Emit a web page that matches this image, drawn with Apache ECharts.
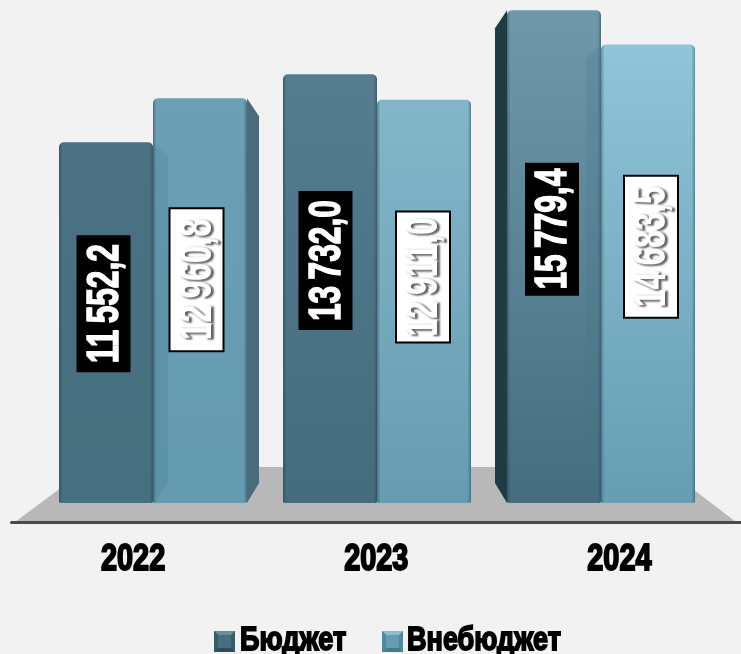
<!DOCTYPE html>
<html><head><meta charset="utf-8">
<style>html,body{margin:0;padding:0;background:#f2f2f2}#c{width:741px;height:654px}</style>
<script src="https://cdn.jsdelivr.net/npm/echarts@6/dist/echarts.min.js"></script>
</head><body><div id="c"></div>
<script>
var categories = ['2022', '2023', '2024'];
var seriesNames = ['Бюджет', 'Внебюджет'];
var budget = [11552.2, 13732.0, 15779.4];
var offBudget = [12960.8, 12911.0, 14683.5];

var topColorsA = ['#4b7183', '#557c8f', '#6f99ab'];
var bottomColorsA = ['#46707f', '#456c7d', '#466d7f'];
var topColorsB = ['#6a9fb5', '#84b6ca', '#90c4d8'];
var bottomColorsB = ['#659bb0', '#669cb1', '#669db2'];
var sideDirA = [1, 0, -1];
var sideDirB = [1, 0, -1];
var labelDxA = [-2.5, -4.5, -2], labelDyA = [-19, -28, -27.5], boxLenA = [137, 139, 133];
var labelDxB = [-3.5, -1, 3], labelDyB = [-21, -24.5, -27], boxLenB = [143, 131, 142];
var BAR = 94, FONT = '"Liberation Sans",sans-serif';

function fmt(v){
  var s = v.toFixed(1).replace('.', ',');
  return s.replace(/^(\d+)(\d{3}),/, '$1\u2009$2,');
}
function gradient(a, b){
  return new echarts.graphic.LinearGradient(0, 0, 0, 1, [{offset: 0, color: a}, {offset: 1, color: b}]);
}
function bars(vals, tops, bottoms){
  return vals.map(function(v, i){ return {value: v, itemStyle: {color: gradient(tops[i], bottoms[i])}}; });
}
function decor(shift, dirs, opaqueFill, overlayFill, which){
  return function(params, api){
    var i = api.value(0), v = api.value(1);
    var c = api.coord([i, v]), b = api.coord([i, 0]);
    var xl = c[0] + shift - BAR / 2, xr = xl + BAR, t = c[1], bot = b[1];
    var kids = [{
      type: 'rect', shape: {x: xl, y: t, width: BAR, height: bot - t, r: [5, 5, 2, 2]},
      style: {fill: new echarts.graphic.LinearGradient(0, 0, 1, 0, [
        {offset: 0, color: 'rgba(20,40,50,0.38)'}, {offset: 0.035, color: 'rgba(20,40,50,0)'},
        {offset: 0.965, color: 'rgba(20,40,50,0)'}, {offset: 1, color: 'rgba(20,40,50,0.38)'}])}
    }];
    var d = dirs[i];
    if (d !== 0) {
      var opaque = (which === 'A') ? d < 0 : d > 0;
      var depth = opaque ? 12 : 15;
      var edge = d > 0 ? xr : xl;
      var drop = opaque ? 18 : 14;
      kids.push({
        type: 'polygon',
        shape: {points: [[edge, t], [edge + d * depth, t + drop], [edge + d * depth, bot - 20], [edge, bot]]},
        style: {fill: opaque ? opaqueFill : overlayFill}
      });
    }
    return {type: 'group', children: kids};
  };
}
function labels(shift, dxs, dys, lens, dark){
  return function(params, api){
    var i = api.value(0), v = api.value(1);
    var x = api.coord([i, v])[0] + shift + dxs[i];
    var y = api.coord([i, v / 2])[1] + dys[i];
    var len = lens[i], w = 54;
    var t = {
      type: 'text', x: x + 2, y: y, rotation: Math.PI / 2, scaleX: 0.72, scaleY: 1,
      style: {
        text: fmt(v), x: 0, y: 0, align: 'center', verticalAlign: 'middle',
        font: 'bold 44px ' + FONT, fill: '#ffffff',
        stroke: '#ffffff', lineWidth: 1.5,
        textShadowColor: dark ? 'transparent' : '#555555',
        textShadowBlur: dark ? 0 : 2, textShadowOffsetX: dark ? 0 : 2, textShadowOffsetY: dark ? 0 : 1
      }
    };
    return {type: 'group', children: [{
      type: 'rect', shape: {x: x - w / 2, y: y - len / 2, width: w, height: len},
      style: dark ? {fill: '#000'} : {fill: '#fff', stroke: '#000', lineWidth: 2}
    }, t]};
  };
}
function yearLabels(params, api){
  var i = api.value(0);
  var c = api.coord([i, 0]);
  return {
    type: 'text', x: c[0], y: c[1] + 38, scaleX: 0.78,
    style: {text: categories[i], x: 0, y: 0, align: 'center', verticalAlign: 'middle',
      font: 'bold 37px ' + FONT, fill: '#000', stroke: '#000', lineWidth: 2}
  };
}
function rows(vals){ return vals.map(function(v, i){ return [i, v]; }); }
function legendItem(x, textX, color, light, dark, name){
  var y = 631, s = 21, b = 4;
  return {type: 'group', children: [
    {type: 'rect', shape: {x: x, y: y, width: s, height: s}, style: {fill: color}},
    {type: 'polygon', shape: {points: [[x, y], [x + s, y], [x + s - b, y + b], [x + b, y + b]]}, style: {fill: light}},
    {type: 'polygon', shape: {points: [[x, y + s], [x + s, y + s], [x + s - b, y + s - b], [x + b, y + s - b]]}, style: {fill: dark}},
    {type: 'polygon', shape: {points: [[x, y], [x + b, y + b], [x + b, y + s - b], [x, y + s]]}, style: {fill: dark, opacity: 0.6}},
    {type: 'polygon', shape: {points: [[x + s, y], [x + s - b, y + b], [x + s - b, y + s - b], [x + s, y + s]]}, style: {fill: dark, opacity: 0.6}},
    {type: 'text', x: textX, y: 641, scaleX: 0.82,
      style: {text: name, x: 0, y: 0, align: 'left', verticalAlign: 'middle',
        font: 'bold 33px ' + FONT, fill: '#000', stroke: '#000', lineWidth: 1.8}}
  ]};
}

var chart = echarts.init(document.getElementById('c'), null, {renderer: 'canvas'});
chart.setOption({
  animation: false,
  backgroundColor: '#f2f2f2',
  graphic: [
    {type: 'polygon', z: 0, silent: true,
      shape: {points: [[15, 522], [89, 467], [664, 467], [736, 522]]}, style: {fill: '#b8b8b8'}},
    legendItem(214, 240, '#47707f', '#6b8d9b', '#2f4c58', seriesNames[0]),
    legendItem(382, 407, '#669cb1', '#8fbccc', '#477a8d', seriesNames[1])
  ],
  grid: [
    {left: 41, width: 672, top: 3.4, height: 499.6},
    {left: 11.5, width: 729.5, top: 500, height: 22}
  ],
  xAxis: [
    {type: 'category', gridIndex: 0, data: categories, axisLine: {show: false}, axisTick: {show: false}, axisLabel: {show: false}},
    {type: 'category', gridIndex: 1, data: categories, axisTick: {show: false},
      axisLine: {lineStyle: {color: '#4a4a4a', width: 3}}, axisLabel: {show: false}}
  ],
  yAxis: [
    {type: 'value', gridIndex: 0, min: 0, max: 16000, show: false},
    {type: 'value', gridIndex: 1, min: 0, max: 1, show: false}
  ],
  series: [
    {name: seriesNames[0], type: 'bar', barWidth: BAR, barGap: 0, z: 2,
      itemStyle: {color: '#47707f', borderRadius: [5, 5, 2, 2]}, data: bars(budget, topColorsA, bottomColorsA)},
    {name: seriesNames[1], type: 'bar', barWidth: BAR, barGap: 0, z: 2,
      itemStyle: {color: '#669cb1', borderRadius: [5, 5, 2, 2]}, data: bars(offBudget, topColorsB, bottomColorsB)},
    {type: 'custom', z: 3, coordinateSystem: 'cartesian2d', silent: true, clip: false,
      renderItem: decor(-BAR / 2, sideDirA, '#1f3b44', 'rgba(60,110,130,0.2)', 'A'), data: rows(budget)},
    {type: 'custom', z: 3, coordinateSystem: 'cartesian2d', silent: true, clip: false,
      renderItem: decor(BAR / 2, sideDirB, '#4a6b7c', 'rgba(70,115,135,0.22)', 'B'), data: rows(offBudget)},
    {type: 'custom', z: 5, coordinateSystem: 'cartesian2d', silent: true, clip: false,
      renderItem: labels(-BAR / 2, labelDxA, labelDyA, boxLenA, true), data: rows(budget)},
    {type: 'custom', z: 5, coordinateSystem: 'cartesian2d', silent: true, clip: false,
      renderItem: labels(BAR / 2, labelDxB, labelDyB, boxLenB, false), data: rows(offBudget)},
    {type: 'custom', z: 5, coordinateSystem: 'cartesian2d', xAxisIndex: 1, yAxisIndex: 1, silent: true, clip: false,
      renderItem: yearLabels, data: rows([0, 0, 0])}
  ]
});
</script></body></html>
